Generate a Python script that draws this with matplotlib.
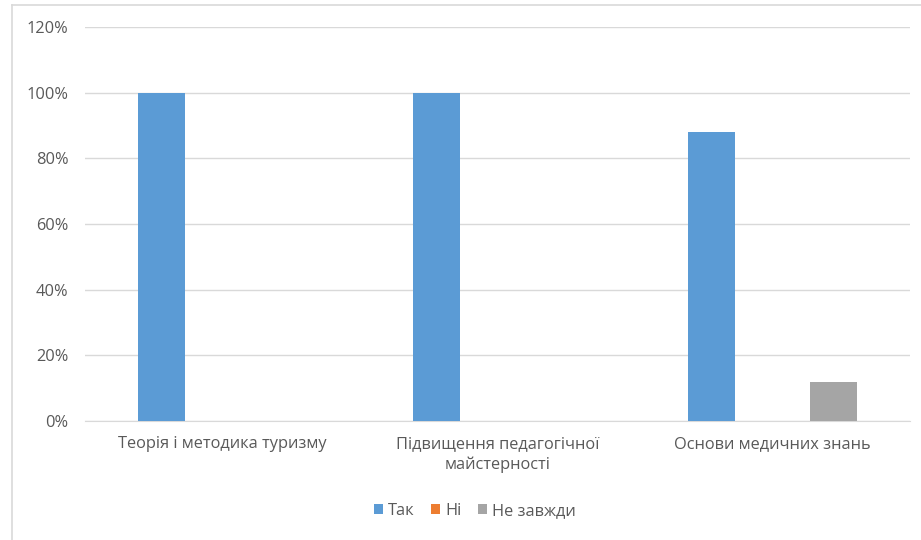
import numpy as np
import matplotlib
matplotlib.use("Agg")
import matplotlib.pyplot as plt
from matplotlib.ticker import FuncFormatter

plt.rcParams['font.family'] = ['Open Sans', 'DejaVu Sans']

categories = ["Теорія і методика туризму", "Підвищення педагогічної\nмайстерності", "Основи медичних знань"]
series_names = ["Так", "Ні", "Не завжди"]
tak = [1.00, 1.00, 0.88]
ni = [0.0, 0.0, 0.0]
ne_zavzhdy = [0.0, 0.0, 0.12]
colors = ["#5B9BD5", "#ED7D31", "#A5A5A5"]
yticks = [0, 0.2, 0.4, 0.6, 0.8, 1.0, 1.2]

fig = plt.figure(figsize=(9.21, 5.4), dpi=100)
ax = fig.add_axes([0.0923, 0.2204, 0.8957, 0.7296])

x = np.arange(len(categories))
w = 0.171
step = 0.222
for i, (vals, name, c) in enumerate(zip([tak, ni, ne_zavzhdy], series_names, colors)):
    ax.bar(x + (i - 1) * step, vals, width=w, color=c, label=name, zorder=3)

ax.set_xlim(-0.5, len(categories) - 0.5)
ax.set_ylim(0, 1.2)
ax.set_yticks(yticks)
ax.yaxis.set_major_formatter(FuncFormatter(lambda v, p: f"{v*100:.0f}%"))
ax.set_xticks(x)
ax.set_xticklabels(categories, linespacing=1.3)
ax.grid(axis='y', color='#D9D9D9', lw=1, zorder=0)
for s in ['top', 'right', 'left']:
    ax.spines[s].set_visible(False)
ax.spines['bottom'].set_color('#D9D9D9')
ax.tick_params(length=0, colors='#595959', labelsize=11.8)
ax.tick_params(axis='y', pad=12)
ax.tick_params(axis='x', pad=11)

ax.legend(loc='center', bbox_to_anchor=(475 / 921, 1 - 511 / 540), bbox_transform=fig.transFigure,
          ncol=3, frameon=False, fontsize=11.8, handlelength=0.55, handleheight=0.55,
          handletextpad=0.3, columnspacing=1.0, labelcolor='#595959')

# chart border
fig.add_artist(plt.Line2D([12 / 921, 12 / 921], [0, 1 - 5 / 540], transform=fig.transFigure, color='#D9D9D9', lw=1.2))
fig.add_artist(plt.Line2D([12 / 921, 1], [1 - 5 / 540, 1 - 5 / 540], transform=fig.transFigure, color='#D9D9D9', lw=1.2))

fig.savefig("out.png", dpi=100)
